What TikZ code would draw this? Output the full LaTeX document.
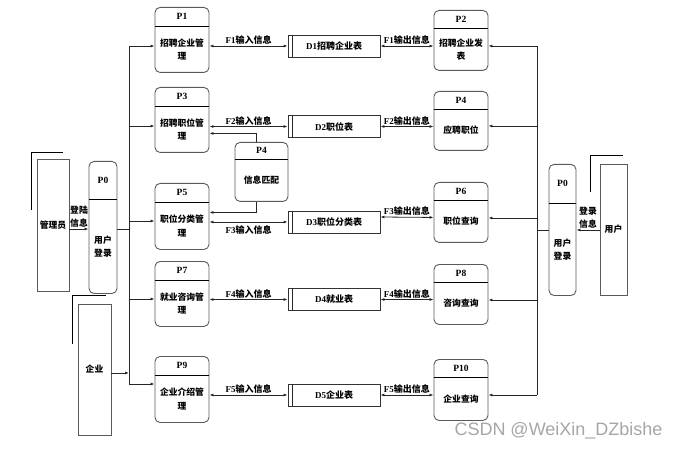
\documentclass[tikz,border=0pt]{standalone}
\usepackage{fontspec}
\setmainfont{Liberation Serif}
\newfontfamily\cjk{Noto Sans CJK SC}
\newfontfamily\wmfont{Liberation Sans}
\usepackage{xcolor}
\usepackage{tikz}
\usetikzlibrary{arrows.meta,calc}
\definecolor{boxgray}{RGB}{90,90,90}
\newcommand{\zh}[1]{{\cjk #1}}
% process box: name, x, top, width, height, divider, id, text
\newcommand{\proc}[8]{%
  \node[procbox, minimum width=#4pt, minimum height=#5pt] (#1) at (#2,#3) {};
  \draw[divline] ([yshift=-#6pt]#1.north west) -- ([yshift=-#6pt]#1.north east);
  \node[idtext] (#1-id) at ($(#1.north)!0.5!([yshift=-#6pt]#1.north)$) {#7};
  \node[bodytext] (#1-txt) at ($([yshift=-#6pt]#1.north)!0.5!(#1.south)$) {#8};
}

\begin{document}
\begin{tikzpicture}[
      x=1pt, y=-1pt,
      procbox/.style={draw=boxgray, line width=0.9pt, rounded corners=5pt, anchor=north, inner sep=0pt},
      divline/.style={draw=black, line width=0.9pt},
      idtext/.style={font=\bfseries\fontsize{9.5}{10}\selectfont, inner sep=0pt},
      bodytext/.style={font=\cjk\bfseries\fontsize{8.8}{13.5}\selectfont, align=center, inner sep=0pt},
      entity/.style={draw=boxgray, line width=0.9pt, inner sep=0pt, font=\cjk\bfseries\fontsize{8.8}{10}\selectfont},
      shade/.style={draw=black, line width=0.8pt},
      store/.style={draw=black!80, line width=0.8pt, minimum width=92pt, minimum height=22pt, inner sep=0pt,
        font=\bfseries\fontsize{9}{10}\selectfont},
      flowlab/.style={font=\bfseries\fontsize{9}{10}\selectfont, inner sep=1pt},
      loginlab/.style={font=\cjk\bfseries\fontsize{8.8}{13}\selectfont, align=center, inner sep=0pt},
      line/.style={draw=black!85, line width=0.8pt},
      arr/.style={line, -{Latex[length=4pt,width=3pt]}},
      darr/.style={line, {Latex[length=4pt,width=3pt]}-{Latex[length=4pt,width=3pt]}}
    ]
  \useasboundingbox (0,0) rectangle (680,449);

  % external entities
  \node[entity, minimum width=32pt, minimum height=132pt] (admin) at (53,225) {管理员};
  \draw[shade] ([xshift=26pt,yshift=6.5pt]admin.north west) -| ([xshift=-5pt,yshift=-51pt]admin.north west);
  \node[entity, minimum width=33pt, minimum height=131pt] (corp) at (94.5,369.5) {企业};
  \draw[shade] ([xshift=28pt,yshift=8pt]corp.north west) -| ([xshift=-5pt,yshift=-40pt]corp.north west);
  \node[entity, minimum width=27pt, minimum height=131pt] (user) at (613.5,229.5) {用户};
  \draw[shade] ([xshift=23pt,yshift=8pt]user.north west) -| ([xshift=-9pt,yshift=-28pt]user.north west);

  % login processes
  \proc{p0l}{103}{161}{28}{132}{38}{P0}{用户\\登录}
  \proc{p0r}{562.5}{164}{27}{131}{39}{P0}{用户\\登录}

  % left column
  \proc{p1}{182}{7}{54}{65}{19}{P1}{招聘企业管\\理}
  \proc{p3}{182}{87}{54}{65}{19}{P3}{招聘职位管\\理}
  \proc{p5}{182}{183}{54}{66}{19}{P5}{职位分类管\\理}
  \proc{p7}{182}{261}{54}{65}{19}{P7}{就业咨询管\\理}
  \proc{p9}{182}{356}{54}{66}{19}{P9}{企业介绍管\\理}
  \proc{pm}{261.5}{142}{53}{59}{17}{P4}{信息匹配}

  % right column
  \proc{p2}{461}{10}{54}{60}{18}{P2}{招聘企业发\\表}
  \proc{p4}{461}{91}{54}{59}{18}{P4}{应聘职位}
  \proc{p6}{461}{182}{54}{60}{18}{P6}{职位查询}
  \proc{p8}{461}{264}{54}{60}{18}{P8}{咨询查询}
  \proc{p10}{461}{359}{54}{61}{18}{P10}{企业查询}

  % data stores
  \node[store] (d1) at (334,46) {D1\zh{招聘企业表}};
  \node[store] (d2) at (334,126.5) {D2\zh{职位表}};
  \node[store] (d3) at (334,222) {D3\zh{职位分类表}};
  \node[store] (d4) at (334,299.5) {D4\zh{就业表}};
  \node[store] (d5) at (334,395) {D5\zh{企业表}};
  \foreach \d in {d1,d2,d3,d4,d5}
    \draw[line] ([xshift=5pt]\d.north west) -- ([xshift=5pt]\d.south west);

  % login flows
  \draw[arr] (admin.east |- 0,229) -- node[loginlab, above=1pt] {登陆\\信息} (p0l.west |- 0,229);
  \draw[arr] (user.west |- 0,230) -- node[loginlab, above=1pt] {登录\\信息} (p0r.east |- 0,230);

  % left bus
  \coordinate (lb1) at (129,46);
  \coordinate (lb3) at (129,126);
  \coordinate (lb0) at (129,229);
  \coordinate (lb5) at (129,221);
  \coordinate (lb7) at (129,299);
  \coordinate (lbc) at (129,373);
  \coordinate (lb9) at (129,384);
  \draw[line] (lb1) -- (lb9);
  \draw[line] (p0l.east |- lb0) -- (lb0);
  \draw[arr] (corp.east |- lbc) -- (lbc);
  \foreach \c/\p in {lb1/p1,lb3/p3,lb5/p5,lb7/p7,lb9/p9}
    \draw[arr] (\c) -- (\p.west |- \c);

  % right bus
  \coordinate (rb2) at (537,46);
  \coordinate (rb4) at (537,126);
  \coordinate (rb6) at (537,218);
  \coordinate (rb0) at (537,230);
  \coordinate (rb8) at (537,300);
  \coordinate (rb10) at (537,395);
  \draw[line] (rb2) -- (rb10);
  \draw[line] (p0r.west |- rb0) -- (rb0);
  \foreach \c/\p in {rb2/p2,rb4/p4,rb6/p6,rb8/p8,rb10/p10}
    \draw[arr] (\c) -- (\p.east |- \c);

  % input flows
  \draw[darr] (p1.east |- d1) -- node[flowlab, above] {F1\zh{输入信息}} (d1.west);
  \draw[darr] (p3.east |- d2) -- node[flowlab, above] {F2\zh{输入信息}} (d2.west);
  \draw[darr] (p5.east |- d3) -- node[flowlab, below=2pt] {F3\zh{输入信息}} (d3.west);
  \draw[darr] (p7.east |- d4) -- node[flowlab, above] {F4\zh{输入信息}} (d4.west);
  \draw[darr] (p9.east |- d5) -- node[flowlab, above] {F5\zh{输入信息}} (d5.west);

  % output flows
  \draw[darr] (d1.east) -- node[flowlab, above] {F1\zh{输出信息}} (p2.west |- d1.east);
  \draw[darr] (d2.east) -- node[flowlab, above] {F2\zh{输出信息}} (p4.west |- d2.east);
  \draw[darr] ([yshift=5pt]d3.east) -- node[flowlab, above] {F3\zh{输出信息}} ([yshift=-5pt]p6.west);
  \draw[darr] (d4.east) -- node[flowlab, above] {F4\zh{输出信息}} (p8.west |- d4.east);
  \draw[darr] (d5.east) -- node[flowlab, above] {F5\zh{输出信息}} (p10.west |- d5.east);

  % matching
  \draw[arr] ([xshift=-5.5pt]pm.north) |- ([yshift=-13.5pt]p3.east);
  \draw[arr] ([xshift=-5.5pt]pm.south) |- ([yshift=4pt]p5.east);

  \node[font=\wmfont\fontsize{18}{20}\selectfont, text=black!35, inner sep=0pt] (wm) at (558.5,431) {CSDN @WeiXin\_DZbishe};
\end{tikzpicture}
\end{document}
